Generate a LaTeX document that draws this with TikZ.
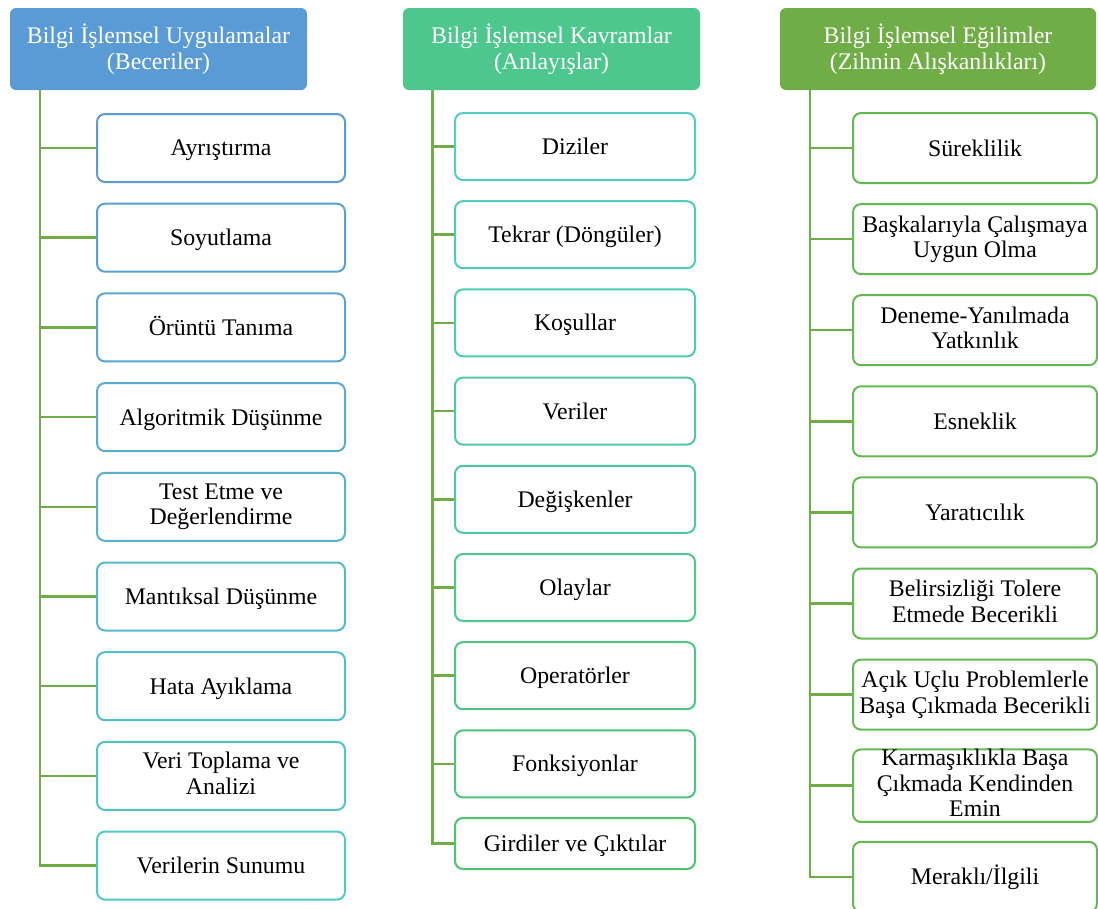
\documentclass[tikz,border=0pt]{standalone}
\usepackage{fontspec}
\setmainfont{Liberation Serif}
\definecolor{hdrA}{RGB}{91,155,213}
\definecolor{hdrB}{RGB}{78,199,143}
\definecolor{hdrC}{RGB}{112,173,71}
\definecolor{linkgreen}{RGB}{112,173,71}
\definecolor{colAtop}{RGB}{91,155,213}
\definecolor{colAbot}{RGB}{80,202,198}
\definecolor{colBtop}{RGB}{80,206,196}
\definecolor{colBbot}{RGB}{76,196,112}
\definecolor{colC}{RGB}{98,185,80}
\tikzset{
  % line struts so text sits like word-processor text (ascent above, descent below)
  struts/.style={execute at begin node={\rule{0pt}{21pt}},
    execute at end node={\rule[-5pt]{0pt}{5pt}}},
  header/.style={fill=#1, text=white, rounded corners=6pt, inner sep=0pt,
    minimum height=82pt, align=center, struts,
    font=\fontsize{23.8}{25.5}\selectfont},
  item/.style={draw=#1, line width=2pt, fill=white, rounded corners=8pt,
    inner sep=0pt, align=center, struts,
    font=\fontsize{23.8}{25.5}\selectfont},
  conn/.style={draw=linkgreen, line width=2.5pt},
}
\begin{document}
\begin{tikzpicture}[x=1pt, y=-1pt]
\useasboundingbox (0,0) rectangle (1098,908);

% headers
\node[header=hdrA, minimum width=297pt] (h1) at (158.5,49) {Bilgi İşlemsel Uygulamalar\\(Beceriler)};
\node[header=hdrB, minimum width=297pt] (h2) at (551.5,49) {Bilgi İşlemsel Kavramlar\\(Anlayışlar)};
\node[header=hdrC, minimum width=316pt] (h3) at (938,49) {Bilgi İşlemsel Eğilimler\\(Zihnin Alışkanlıkları)};

% trunk tops
\coordinate (t1) at (40,90);
\coordinate (t2) at (432.5,90);
\coordinate (t3) at (810,90);

% skills column
\foreach \txt [count=\i] in {Ayrıştırma, Soyutlama, Örüntü Tanıma, Algoritmik Düşünme,
  {Test Etme ve\\Değerlendirme}, Mantıksal Düşünme, Hata Ayıklama,
  {Veri Toplama ve\\Analizi}, Verilerin Sunumu} {
  \pgfmathtruncatemacro\p{(\i-1)*100/8}
  \pgfmathsetmacro\yy{148+(\i-1)*89.7}
  \node[item={colAbot!\p!colAtop}, minimum width=248pt, minimum height=68pt] (a\i) at (221,\yy) {\txt};
}
\draw[conn] (t1) |- (a9.west);
\foreach \i in {1,...,8} \draw[conn] (a\i.west) -- (a\i.west -| t1);

% concepts column
\foreach \txt [count=\i] in {Diziler, Tekrar (Döngüler), Koşullar, Veriler, Değişkenler,
  Olaylar, Operatörler, Fonksiyonlar} {
  \pgfmathtruncatemacro\p{(\i-1)*100/8}
  \pgfmathsetmacro\yy{146.5+(\i-1)*88.2}
  \node[item={colBbot!\p!colBtop}, minimum width=240pt, minimum height=67pt] (b\i) at (575,\yy) {\txt};
}
\node[item=colBbot, minimum width=240pt, minimum height=51pt] (b9) at (575,843.5) {Girdiler ve Çıktılar};
\draw[conn] (t2) |- (b9.west);
\foreach \i in {1,...,8} \draw[conn] (b\i.west) -- (b\i.west -| t2);

% dispositions column
\foreach \txt [count=\i] in {Süreklilik, {Başkalarıyla Çalışmaya\\Uygun Olma},
  {Deneme-Yanılmada\\Yatkınlık}, Esneklik, Yaratıcılık,
  {Belirsizliği Tolere\\Etmede Becerikli}, {Açık Uçlu Problemlerle\\Başa Çıkmada Becerikli},
  {Karmaşıklıkla Başa\\Çıkmada Kendinden\\Emin}, Meraklı/İlgili} {
  \pgfmathsetmacro\yy{148+(\i-1)*91.1}
  \node[item=colC, minimum width=244pt, minimum height=70pt] (c\i) at (975,\yy) {\txt};
}
\draw[conn] (t3) |- (c9.west);
\foreach \i in {1,...,8} \draw[conn] (c\i.west) -- (c\i.west -| t3);
\end{tikzpicture}
\end{document}
